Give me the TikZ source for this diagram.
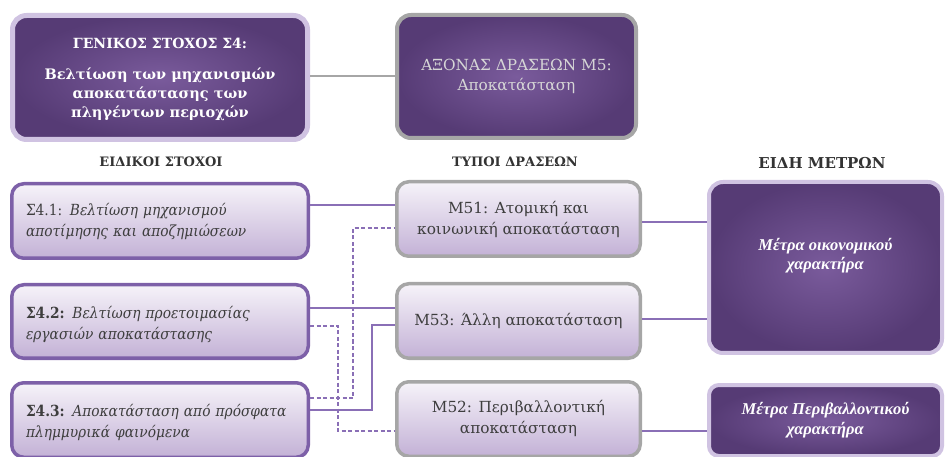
\documentclass[tikz,border=0pt]{standalone}
\usepackage{fontspec}
\setmainfont{DejaVu Serif}
\newfontfamily\itfam{Liberation Serif}
\newfontfamily\condfam{DejaVu Serif Condensed}
\usetikzlibrary{calc}
\definecolor{boxtop}{HTML}{F6F3F9}
\definecolor{boxbot}{HTML}{C3B1D6}
\definecolor{purpleb}{HTML}{7D60A8}
\definecolor{grayb}{HTML}{A6A6A6}
\definecolor{darkin}{HTML}{7A5B9C}
\definecolor{darkout}{HTML}{563B75}
\definecolor{lavb}{HTML}{D0C3E2}
\definecolor{txtgray}{HTML}{3E3E3E}
\definecolor{headgray}{HTML}{333333}
\definecolor{linep}{HTML}{8A6FB6}
\definecolor{lightgraytxt}{HTML}{D6D6D6}
\begin{document}
\begin{tikzpicture}[x=1pt,y=-1pt,
  lightbox/.style={rectangle, rounded corners=12pt, line width=3.5pt, top color=boxtop, bottom color=boxbot, text=txtgray, font=\fontsize{15.3}{21}\selectfont, align=center, inner sep=0pt},
  sbox/.style={lightbox, draw=purpleb, minimum width=296.5pt, text width=268pt, align=left,
               font=\condfam\fontsize{15.3}{21}\selectfont},
  mbox/.style={lightbox, draw=grayb, minimum width=243.5pt},
  darkbox/.style={rectangle, rounded corners=14pt, inner color=darkin, outer color=darkout, text=white, align=center, inner sep=0pt},
  header/.style={font=\bfseries\fontsize{13}{15}\selectfont, text=headgray, inner sep=0pt},
  solidc/.style={draw=linep, line width=1.8pt},
  dashc/.style={draw=linep, line width=1.8pt, dash pattern=on 4pt off 2.5pt},
  grayc/.style={draw=grayb, line width=2pt}
]
\useasboundingbox (0,0) rectangle (946,457);

% top boxes
\node[darkbox, draw=lavb, line width=5pt, minimum width=295pt, minimum height=124pt, text depth=0pt,
      font=\bfseries\fontsize{14.5}{19}\selectfont] (G) at (160,77.5)
  {\fontsize{14}{16}\selectfont ΓΕΝΙΚΟΣ ΣΤΟΧΟΣ Σ4:\\[12pt]
   \fontsize{14.5}{19}\selectfont Βελτίωση των μηχανισμών\\ αποκατάστασης των\\ πληγέντων περιοχών};
\node[darkbox, draw=grayb, line width=4pt, minimum width=239pt, minimum height=123pt, text=lightgraytxt,
      font=\fontsize{15.3}{20}\selectfont] (A) at (516.5,76.5)
  {ΑΞΟΝΑΣ ΔΡΑΣΕΩΝ Μ5:\\ Αποκατάσταση};

% headers
\node[header] (H1) at (161,162) {ΕΙΔΙΚΟΙ ΣΤΟΧΟΙ};
\node[header] (H2) at (515,162) {ΤΥΠΟΙ ΔΡΑΣΕΩΝ};
\node[header, font=\bfseries\fontsize{15}{17}\selectfont] (H3) at (822,163) {ΕΙΔΗ ΜΕΤΡΩΝ};

% specific objectives
\node[sbox, minimum height=74.5pt] (S1) at (160,221)
  {Σ4.1: \itshape Βελτίωση μηχανισμού\\ αποτίμησης και αποζημιώσεων};
\node[sbox, minimum height=73.5pt] (S2) at (160,321.5)
  {\rule{0pt}{19pt}\textbf{Σ4.2:} \itshape Βελτίωση προετοιμασίας\\ εργασιών αποκατάστασης};
\node[sbox, minimum height=74.5pt] (S3) at (160,420)
  {\rule{0pt}{18pt}\textbf{Σ4.3:} \itshape Αποκατάσταση από πρόσφατα\\ πλημμυρικά φαινόμενα};

% action types
\node[mbox, minimum height=74.5pt] (M51) at (518.5,219) {Μ51: Ατομική και\\ κοινωνική αποκατάσταση};
\node[mbox, minimum height=74.5pt] (M53) at (518.5,321) {Μ53: Άλλη αποκατάσταση};
\node[mbox, minimum height=74.5pt, text depth=5pt] (M52) at (518.5,419) {Μ52: Περιβαλλοντική\\ αποκατάσταση};

% measure kinds
\node[darkbox, draw=lavb, line width=4pt, minimum width=233pt, minimum height=171pt, text depth=28pt,
      font=\itfam\bfseries\itshape\fontsize{16.5}{19}\selectfont] (R1) at (825.5,267.5)
  {Μέτρα οικονομικού\\ χαρακτήρα};
\node[darkbox, draw=lavb, line width=4pt, rounded corners=10pt, minimum width=233pt, minimum height=71pt,
      font=\itfam\bfseries\itshape\fontsize{16.5}{20}\selectfont] (R2) at (825.5,420.5)
  {Μέτρα Περιβαλλοντικού\\ χαρακτήρα};

% connectors
\draw[grayc] ([yshift=1.5pt]G.east) -- ([yshift=1.5pt]G.east -| A.west);
\draw[solidc] ([yshift=16pt]S1.east) -- ([yshift=16pt]S1.east -| M51.west);
\draw[dashc] ([yshift=22pt]S3.east) -- ++(43,0) |- ([yshift=-9pt]M51.west);
\draw[solidc] ([yshift=13.5pt]S2.east) -- ([yshift=13.5pt]S2.east -| M53.west);
\draw[dashc] ([yshift=-4.5pt]S2.east) -- ++(28,0) |- ([yshift=-12pt]M52.west);
\draw[solidc] ([yshift=10pt]S3.east) -- ++(62,0) |- ([yshift=-4pt]M53.west);
\draw[solidc] ([yshift=-3pt]M51.east) -- ([yshift=-3pt]M51.east -| R1.west);
\draw[solidc] ([yshift=2pt]M53.east) -- ([yshift=2pt]M53.east -| R1.west);
\draw[solidc] ([yshift=-12pt]M52.east) -- ([yshift=-12pt]M52.east -| R2.west);
\end{tikzpicture}
\end{document}
